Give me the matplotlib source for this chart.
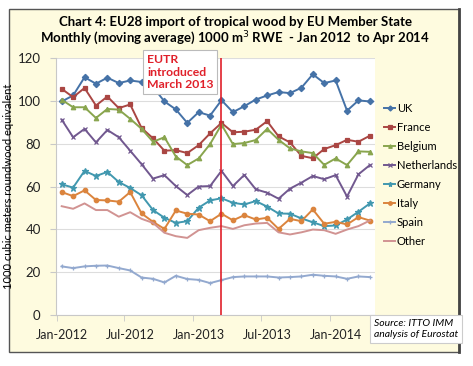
import matplotlib
matplotlib.use("Agg")
import matplotlib.pyplot as plt
from matplotlib.patches import Rectangle

plt.rcParams['font.family'] = ['Lato', 'DejaVu Sans']

# monthly moving averages, Jan 2012 .. Apr 2014 (1000 m3 RWE)
months = list(range(28))
tick_pos = [0, 6, 12, 18, 24]
tick_labels = ['Jan-2012', 'Jul-2012', 'Jan-2013', 'Jul-2013', 'Jan-2014']

uk = [99.7, 102.5, 111, 108, 110.8, 108.3, 109.5, 108.8, 106.5, 99.7, 96, 89.7, 94.7, 93.1,
      100.3, 94.7, 97.5, 100.6, 102.5, 104.1, 103.6, 106.1, 112.4, 108.3, 109.5, 95.4, 100.2, 99.7]
france = [105.6, 101.7, 106, 97.8, 102, 96.6, 98.3, 87.3, 82.5, 76.7, 77, 75.6, 79.3, 84.8,
          89.7, 85.3, 85.6, 86.5, 90.5, 83.4, 80.6, 74.3, 73.2, 77.5, 79.3, 81.8, 80.9, 83.7]
belgium = [100.5, 97, 97, 92, 96.2, 95.9, 91.6, 86.9, 80.9, 83, 74, 70, 73.1, 79.8,
           88.9, 79.8, 80.3, 81.7, 86.9, 81.8, 77.8, 76.4, 75.6, 70.1, 73.1, 70, 76.4, 76.2]
netherlands = [91.2, 83, 86.9, 80.6, 86.4, 83, 76.7, 70.4, 63.7, 65.3, 60.2, 56, 60, 60.2,
               67.3, 60.2, 65.4, 58.7, 57.1, 54.3, 59, 61.8, 64.9, 63.4, 65.3, 55.3, 65.7, 70]
germany = [61, 59.5, 67.3, 64.9, 66.8, 62.1, 59.3, 55.9, 49, 45.4, 43, 43.8, 50.1, 53.5,
           54.5, 52.4, 51.6, 53.2, 50.6, 47.4, 47.3, 45.1, 43.3, 41.5, 41.8, 44.6, 48.2, 52.1]
italy = [57.4, 55.5, 58.2, 53.7, 53.5, 52.9, 57.4, 47.4, 43.5, 40.2, 48.8, 47.3, 46.9, 43.8,
         47.3, 44.2, 46.6, 44.6, 45.4, 40.2, 44.9, 43.8, 49.3, 42.6, 43.5, 42.3, 45.7, 44.1]
spain = [22.7, 21.9, 22.7, 23, 23.1, 21.9, 20.8, 17.5, 16.9, 15.2, 18.3, 16.8, 16.4, 14.9,
         16.3, 17.7, 18, 18, 18, 17.5, 17.7, 18, 18.8, 18.3, 18, 16.9, 18, 17.7]
other = [50.8, 49.6, 52.1, 49, 49, 45.9, 48, 44.9, 43, 38.4, 36.8, 36, 39.6, 40.7,
         41.5, 40.2, 41.9, 42.7, 43, 38.6, 37.6, 38.6, 39.9, 39.6, 37.9, 39.9, 41.5, 44.1]

eutr_month = 14  # March 2013

series = [
    ('UK', uk, '#4572A7', 'D'),
    ('France', france, '#AA4643', 's'),
    ('Belgium', belgium, '#89A54E', '^'),
    ('Netherlands', netherlands, '#71588F', 'x'),
    ('Germany', germany, '#4198AF', '*'),
    ('Italy', italy, '#DB843D', 'o'),
    ('Spain', spain, '#93A9CF', '+'),
    ('Other', other, '#D19392', None),
]

W, H = 473, 366
fig = plt.figure(figsize=(W / 100, H / 100), dpi=100)
fig.patch.set_facecolor('white')

# cream chart frame
frame = Rectangle((9 / W, 1 - 352 / H), 450 / W, 343 / H, transform=fig.transFigure,
                  facecolor='#FEFBDF', edgecolor='#555555', lw=1.0, zorder=-10)
fig.add_artist(frame)
fig.add_artist(plt.Line2D([459 / W, 459 / W], [1 - 352 / H, 1 - 9 / H], transform=fig.transFigure,
                          color='#444444', lw=2, zorder=-9))

ax = fig.add_axes([56 / W, 1 - 315 / H, 319 / W, 257 / H])
ax.set_facecolor('white')

for name, vals, col, mk in series:
    ax.plot(months, vals, color=col, lw=1.4, marker=mk, markersize=3.2 if mk != '*' else 4.5,
            markeredgewidth=0.9, label=name, zorder=3)

ax.axvline(eutr_month, color='#E0202A', lw=1.2, zorder=4)

ax.set_xlim(-0.5, 27.45)
ax.set_ylim(0, 120)
ax.set_yticks(range(0, 121, 20))
ax.set_xticks(tick_pos)
ax.set_xticklabels(tick_labels)
ax.set_xticks([-0.45, 5.5, 11.5, 17.5, 23.5], minor=True)
ax.tick_params(axis='x', which='major', length=0, labelsize=9, pad=10, colors='#222222')
ax.tick_params(axis='x', which='minor', length=4, color='#C8C8C8', direction='out')
ax.tick_params(axis='y', length=4, color='#C8C8C8', labelsize=9.5, pad=7, colors='#222222')
ax.grid(axis='y', color='#DDDDDD', lw=0.8, zorder=0)
for s in ['top', 'right']:
    ax.spines[s].set_visible(False)
for s in ['left', 'bottom']:
    ax.spines[s].set_color('#C8C8C8')

ax.set_ylabel('1000 cubic meters roundwood equivalent', fontsize=8, labelpad=3)

fig.text(235 / W, 1 - 22 / H, 'Chart 4: EU28 import of tropical wood by EU Member State',
         ha='center', va='center', fontsize=9.5, fontweight='bold')
fig.text(235 / W, 1 - 38 / H, 'Monthly (moving average) 1000 m$^3$ RWE  - Jan 2012  to Apr 2014',
         ha='center', va='center', fontsize=9.5, fontweight='bold')

fig.text(147 / W, 1 - 72 / H, 'EUTR\nintroduced\nMarch 2013', ha='left', va='center',
         fontsize=8.8, fontweight='bold', color='#E0202A', linespacing=1.15,
         bbox=dict(boxstyle='square,pad=0.3', facecolor='white', edgecolor='#BBBBBB', lw=0.8),
         zorder=5)

leg = fig.legend(loc='upper left', bbox_to_anchor=(374 / W, 1 - 93 / H), frameon=False,
                 fontsize=8, handlelength=1.0, handletextpad=0.15, labelspacing=0.72,
                 markerscale=0.8)

fig.text(374 / W, 1 - 329 / H, 'Source: ITTO IMM\nanalysis of Eurostat', ha='left', va='center',
         fontsize=7.5, style='italic', linespacing=1.3,
         bbox=dict(boxstyle='square,pad=0.35', facecolor='white', edgecolor='#CCCCCC', lw=0.8))

fig.savefig('out.png', dpi=100)
